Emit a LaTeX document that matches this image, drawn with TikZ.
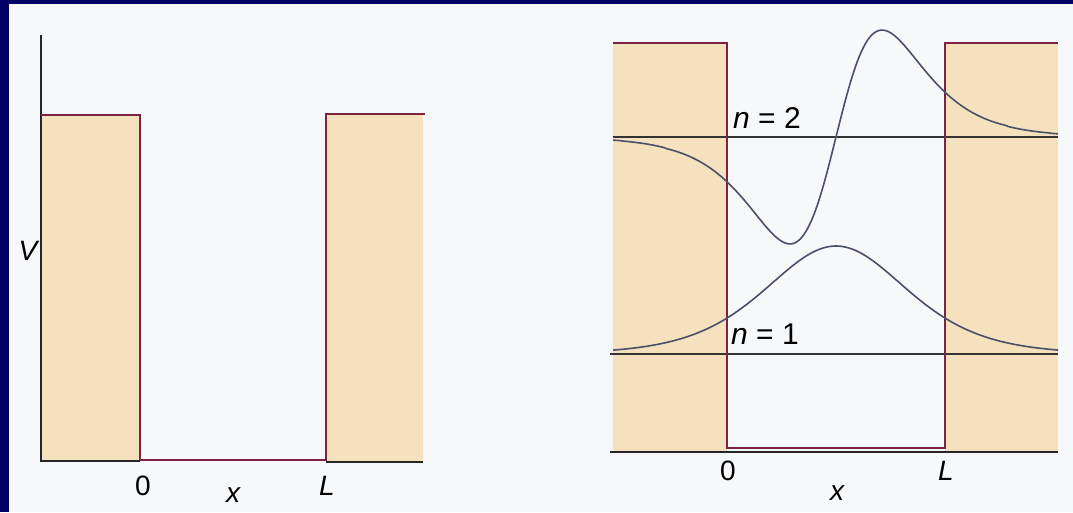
\documentclass[tikz,border=0pt]{standalone}
\usepackage{fontspec}
\setmainfont{Liberation Sans}
\definecolor{navy}{RGB}{0,0,102}
\definecolor{paper}{RGB}{247,248,250}
\definecolor{tan}{RGB}{245,225,190}
\definecolor{wall}{RGB}{125,35,65}
\definecolor{wave}{RGB}{75,80,105}
\tikzset{
  barrier/.style={fill=tan, draw=none},
  wallline/.style={draw=wall, line width=1.8pt, line join=miter},
  axisline/.style={draw=black!85, line width=1.8pt},
  levelline/.style={draw=black!80, line width=1.2pt},
  wavecurve/.style={draw=wave, line width=1.6pt, smooth},
  lbl/.style={font=\fontsize{28}{32}\selectfont, inner sep=0pt},
  nlbl/.style={font=\fontsize{30}{34}\selectfont, inner sep=0pt, anchor=base west}
}
\begin{document}
\begin{tikzpicture}[x=1pt,y=-1pt]
\useasboundingbox (0,0) rectangle (1073,512);
\fill[navy] (0,0) rectangle (1073,512);
\fill[paper] (9,4) rectangle (1073,512);
% ---------- left panel ----------
\fill[barrier] (41,115) rectangle (140,461);
\fill[barrier] (326,114) rectangle (423,462);
\draw[axisline] (41,35) -- (41,462);
\draw[axisline] (41,461) -- (140,461);
\draw[axisline] (326,462) -- (423,462);
\draw[wallline] (41,115) -- (140,115) -- (140,460) -- (326,460) -- (326,114) -- (425,114);
\node[lbl, anchor=base] (lzero) at (143,495) {0};
\node[lbl, anchor=base] (lx) at (233,502) {\itshape x};
\node[lbl, anchor=base] (lL) at (327,495) {\itshape L};
\node[lbl, anchor=base] (lV) at (28,260) {\itshape V};
% ---------- right panel ----------
\fill[barrier] (613,43) rectangle (727,452);
\fill[barrier] (945,43) rectangle (1058,452);
\draw[axisline] (610,452) -- (1058,452);
\draw[levelline] (613,137) -- (1058,137);
\draw[levelline] (610,354) -- (1058,354);
\draw[wallline] (613,43) -- (727,43) -- (727,448) -- (945,448) -- (945,43) -- (1058,43);
\draw[wavecurve] plot[domain=613:1058, samples=220]
  (\x, {354 - 108/((cosh((\x-836)/95))^2)});
\draw[wavecurve] plot[domain=613:1058, samples=260]
  (\x, {137 - 248*tanh((\x-836)/61.7)*((1/cosh((\x-836)/61.7))^1.5)});
\node[nlbl] (n2) at (733,128) {\itshape n\upshape\ = 2};
\node[nlbl] (n1) at (731,344) {\itshape n\upshape\ = 1};
\node[lbl, anchor=base] (rzero) at (728,480) {0};
\node[lbl, anchor=base] (rL) at (946,480) {\itshape L};
\node[lbl, anchor=base] (rx) at (837,500) {\itshape x};
\end{tikzpicture}
\end{document}
